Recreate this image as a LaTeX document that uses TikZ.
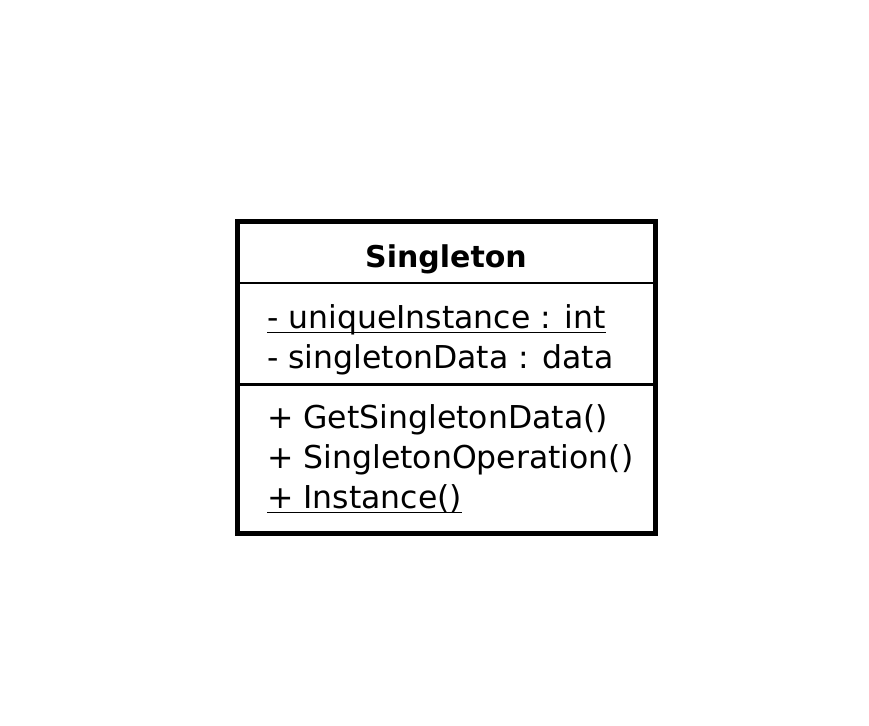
\documentclass[tikz,border=0pt]{standalone}
\usepackage{fontspec}
\setmainfont{DejaVu Sans}
\begin{document}
\begin{tikzpicture}[x=1pt,y=-1pt,
  txt/.style={inner sep=0pt, anchor=base west, font=\fontsize{31.5}{31.5}\selectfont},
  ttl/.style={inner sep=0pt, anchor=base, font=\fontsize{30}{30}\selectfont\bfseries},
  uline/.style={line width=1.8pt},
  divider/.style={line width=2.2pt}]
\useasboundingbox (0,0) rectangle (869,725);
\node[draw, line width=5pt, minimum width=418pt, minimum height=312pt, inner sep=0pt] (box) at (446.5,377.5) {};
\coordinate (d1) at (0,283);
\coordinate (d2) at (0,384.5);
\draw[divider] (box.west |- d1) -- (box.east |- d1);
\draw[divider] (box.west |- d2) -- (box.east |- d2);
\node[ttl] (title) at (446,267) {Singleton};
\node[txt] (a1) at (267,328) {- uniqueInstance : int};
\node[txt] (a2) at (267,368) {- singletonData : data};
\node[txt] (m1) at (267,428) {+ GetSingletonData()};
\node[txt] (m2) at (267,468) {+ SingletonOperation()};
\node[txt] (m3) at (267,508) {+ Instance()};
\draw[uline] ([yshift=-4.5pt]a1.base west) -- ([yshift=-4.5pt]a1.base east);
\draw[uline] ([yshift=-4.5pt]m3.base west) -- ([yshift=-4.5pt]m3.base east);
\end{tikzpicture}
\end{document}
